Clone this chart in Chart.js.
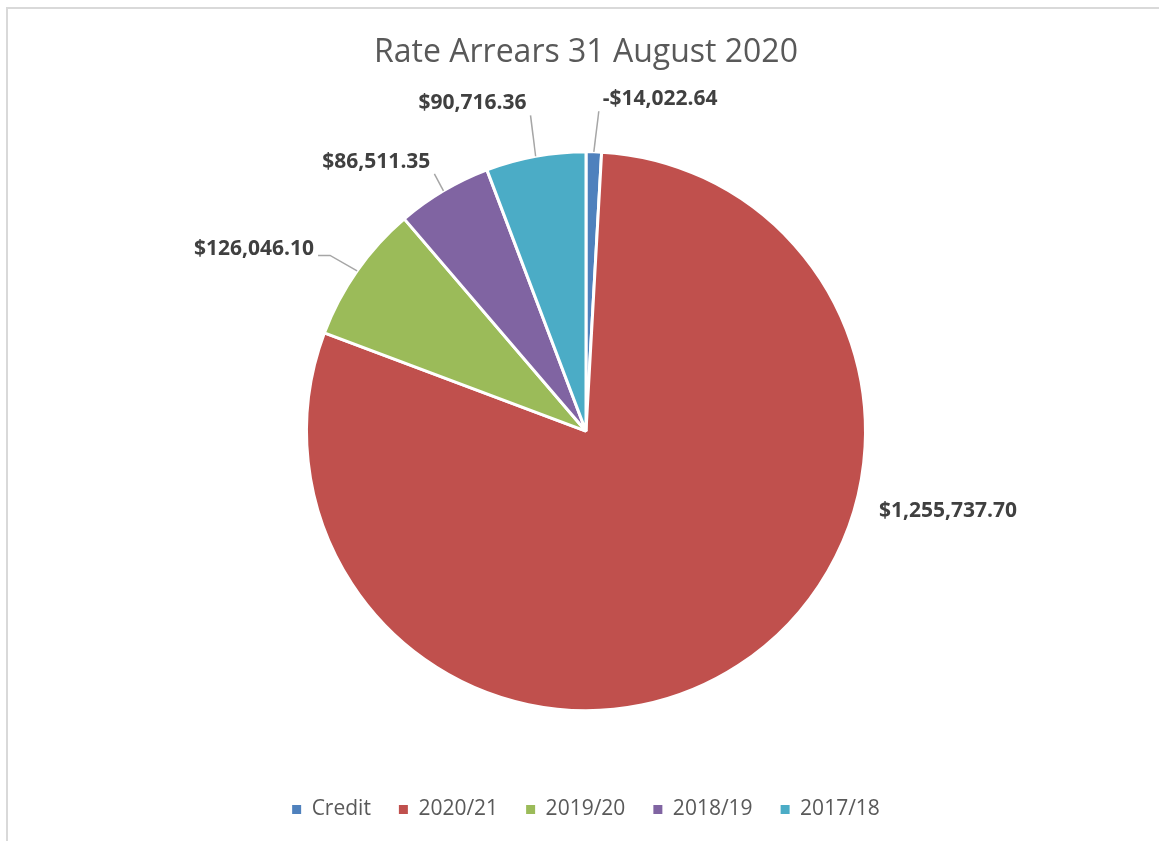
<!DOCTYPE html>
<html>
<head>
<meta charset="utf-8">
<title>Rate Arrears 31 August 2020</title>
<script src="https://cdn.jsdelivr.net/npm/chart.js@4.4.0/dist/chart.umd.min.js"></script>
<style>
  html, body { margin: 0; padding: 0; background: #fff; overflow: hidden; }
  #frame {
    position: absolute; left: 6px; top: 7px;
    width: 1300px; height: 1000px;
    border: 2px solid #d9d9d9; box-sizing: border-box;
  }
  #wrap { position: absolute; left: 0; top: 0; width: 1159px; height: 841px; }
</style>
</head>
<body>
<div id="frame"></div>
<div id="wrap"><canvas id="chart4wrapper"></canvas></div>
<script>
// chart data
var categories = ['Credit', '2020/21', '2019/20', '2018/19', '2017/18'];
var amounts = [-14022.64, 1255737.70, 126046.10, 86511.35, 90716.36];
var sliceColors = ['#4f81bd', '#c0504d', '#9bbb59', '#8064a2', '#4bacc6'];

// where each data label sits: angle (deg, clockwise from top) and distance (x radius)
var labelAngle = [12.6, 102.4, -61.3, -37.9, -19.1];
var labelDist = [1.217, 1.326, 1.354, 1.221, 1.241];
var labelLeader = [true, false, true, true, true];

function money(v) {
    var s = Math.abs(v).toLocaleString('en-US', { minimumFractionDigits: 2, maximumFractionDigits: 2 });
    return (v < 0 ? '-$' : '$') + s;
}

var sliceLabels = {
    id: 'sliceLabels',
    afterDatasetsDraw: function(chart) {
        var ctx = chart.ctx;
        var meta = chart.getDatasetMeta(0);
        ctx.save();
        ctx.font = 'bold 21px "Open Sans"';
        ctx.textAlign = 'center';
        ctx.textBaseline = 'middle';
        meta.data.forEach(function(arc, i) {
            var p = arc.getProps(['x', 'y', 'startAngle', 'endAngle', 'outerRadius'], true);
            var mid = (p.startAngle + p.endAngle) / 2;
            var ex = p.x + Math.cos(mid) * p.outerRadius;
            var ey = p.y + Math.sin(mid) * p.outerRadius;
            var a = labelAngle[i] * Math.PI / 180 - Math.PI / 2;
            var lx = p.x + Math.cos(a) * p.outerRadius * labelDist[i];
            var ly = p.y + Math.sin(a) * p.outerRadius * labelDist[i];
            var text = money(amounts[i]);
            var w = ctx.measureText(text).width;
            if (labelLeader[i]) {
                ctx.strokeStyle = '#a6a6a6';
                ctx.lineWidth = 1.5;
                ctx.beginPath();
                if (Math.abs(Math.cos(a)) > 0.8) {
                    // side label: short flat piece, then down to the slice
                    var side = Math.cos(a) < 0 ? 1 : -1;
                    var sx = lx + side * (w / 2 + 4);
                    ctx.moveTo(sx, ly + 6);
                    ctx.lineTo(sx + side * 12, ly + 6);
                } else {
                    var bx = Math.min(Math.max(ex, lx - w / 2 - 4), lx + w / 2 + 4);
                    var by = Math.min(Math.max(ey, ly - 12), ly + 12);
                    ctx.moveTo(bx, by);
                }
                ctx.lineTo(ex, ey);
                ctx.stroke();
            }
            ctx.fillStyle = '#404040';
            ctx.fillText(text, lx, ly);
        });
        ctx.restore();
    }
};

document.addEventListener('DOMContentLoaded', function() {
    new Chart('chart4wrapper', {
        type: 'pie',
        data: {
            labels: categories,
            datasets: [{
                label: 'Rate Arrears',
                data: amounts.map(function(v) { return Math.abs(v); }),
                backgroundColor: sliceColors,
                borderColor: '#ffffff',
                borderWidth: 3
            }]
        },
        options: {
            responsive: true,
            maintainAspectRatio: false,
            animation: false,
            radius: 279.5,
            layout: { padding: { left: 13, right: 0, top: 0, bottom: 11 } },
            plugins: {
                title: {
                    display: true,
                    text: 'Rate Arrears 31 August 2020',
                    color: '#595959',
                    font: { family: '"Open Sans"', size: 32, weight: 'normal' },
                    padding: { top: 34, bottom: 19 }
                },
                legend: {
                    position: 'bottom',
                    labels: {
                        boxWidth: 9,
                        boxHeight: 9,
                        padding: 28,
                        color: '#595959',
                        font: { family: '"Open Sans"', size: 21 },
                        generateLabels: function(chart) {
                            var items = Chart.overrides.pie.plugins.legend.labels.generateLabels(chart);
                            items.forEach(function(item) { item.lineWidth = 0; });
                            return items;
                        }
                    }
                },
                tooltip: { enabled: false }
            }
        },
        plugins: [sliceLabels]
    });
});
</script>
</body>
</html>
